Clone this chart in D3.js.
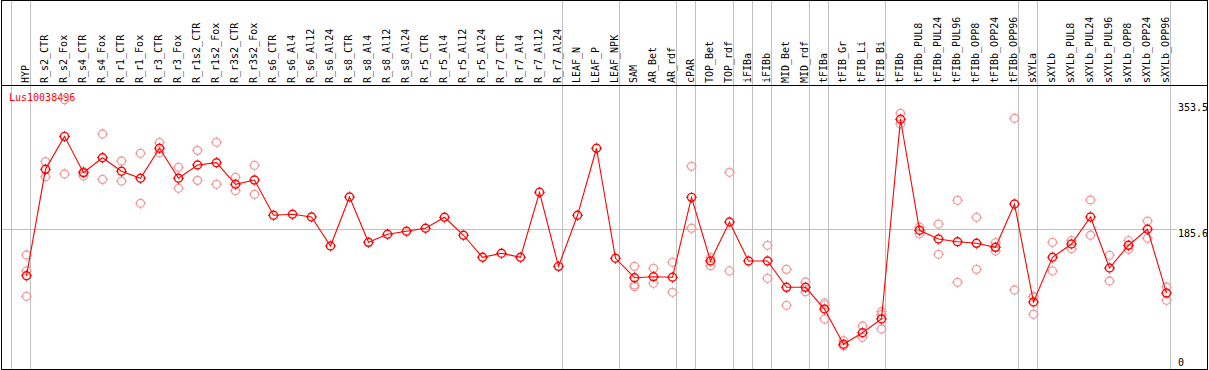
<!DOCTYPE html>
<html>
<head>
<meta charset="utf-8">
<script src="https://cdn.jsdelivr.net/npm/d3@7"></script>
<style>
  html, body { margin: 0; padding: 0; background: #fff; }
  svg { display: block; }
  text { font-family: "DejaVu Sans Mono", "Liberation Mono", monospace; font-size: 10px; }
</style>
</head>
<body>
<div id="chart"></div>
<script>
const geneLabel = "Lus10038496";

const categories = [
  "HYP",
  "R_s2_CTR","R_s2_Fox","R_s4_CTR","R_s4_Fox","R_r1_CTR","R_r1_Fox","R_r3_CTR","R_r3_Fox",
  "R_r1s2_CTR","R_r1s2_Fox","R_r3s2_CTR","R_r3s2_Fox",
  "R_s6_CTR","R_s6_Al4","R_s6_Al12","R_s6_Al24","R_s8_CTR","R_s8_Al4","R_s8_Al12","R_s8_Al24",
  "R_r5_CTR","R_r5_Al4","R_r5_Al12","R_r5_Al24","R_r7_CTR","R_r7_Al4","R_r7_Al12","R_r7_Al24",
  "LEAF_N","LEAF_P","LEAF_NPK",
  "SAM","AR_Bet","AR_rdf",
  "cPAR",
  "TOP_Bet","TOP_rdf",
  "iFIBa",
  "iFIBb",
  "MID_Bet","MID_rdf",
  "tFIBa",
  "tFIB_Gr","tFIB_Li","tFIB_Bi",
  "tFIBb","tFIBb_PUL8","tFIBb_PUL24","tFIBb_PUL96","tFIBb_OPP8","tFIBb_OPP24","tFIBb_OPP96",
  "sXYLa",
  "sXYLb","sXYLb_PUL8","sXYLb_PUL24","sXYLb_PUL96","sXYLb_OPP8","sXYLb_OPP24","sXYLb_OPP96"
];

// number of consecutive categories in each separated group
const groupSizes = [1, 28, 3, 3, 1, 2, 1, 1, 2, 1, 3, 7, 1, 7];

const means = [
  124.1,
  262.7, 305.6, 258.3, 277.8, 260.1, 251.0, 290.1, 251.0,
  268.3, 271.3, 243.2, 248.7,
  202.8, 204.1, 200.6, 162.8, 226.6, 167.6, 178.1, 182.0,
  185.9, 200.2, 176.8, 148.1, 153.3, 148.1, 232.8, 136.3,
  202.8, 290.1, 146.8,
  121.5, 122.8, 122.1,
  226.2,
  143.3, 194.0,
  143.3,
  143.3,
  109.0, 109.0,
  80.7,
  34.8, 49.8, 67.8,
  327.9, 183.3, 171.9, 168.4, 166.3, 161.1, 217.5,
  89.9,
  148.1, 165.4, 200.6, 134.1, 163.7, 184.6, 101.5
];

const replicates = [
  [151.1, 130.3, 97.3],
  [272.7, 253.0], [353.5, 256.6], [259.6, 254.0], [308.7, 249.6],
  [273.5, 247.4], [283.5, 218.4], [297.4, 284.3], [265.3, 238.0],
  [287.4, 248.3], [297.9, 243.2], [252.3, 234.8], [267.9, 230.1],
  [], [], [], [], [], [], [], [],
  [], [], [], [], [], [], [], [],
  [], [], [],
  [136.3, 112.0, 109.8], [133.7, 114.2], [141.6, 102.5],
  [266.6, 185.9],
  [147.6, 137.1], [258.8, 130.3],
  [],
  [163.7, 120.7],
  [132.4, 85.6], [115.9, 103.2],
  [88.6, 86.0, 67.8],
  [39.5, 32.6], [58.6, 43.9], [77.2, 73.4, 54.7],
  [335.6, 321.7], [187.5, 178.5], [191.4, 152.0], [222.3, 115.5],
  [200.2, 132.4], [167.1, 156.3], [329.2, 105.5],
  [97.3, 96.5, 73.9],
  [167.6, 130.3], [169.7, 159.3], [222.7, 176.8], [150.7, 117.2],
  [169.7, 158.6], [195.3, 172.8], [109.4, 92.1]
];

const yTicks = [353.5, 185.6, 0];
const yMax = 371.2;

// ---- layout ----
const W = 1209, H = 370;
const left = 11.5, colW = 19;
const headerY = 85.5, bottomY = 369.5, rightX = 1207.5;
const red = "#ff0000", pink = "#f09a9a", grid = "#c0c0c0";

const svg = d3.select("#chart").append("svg")
  .attr("width", W).attr("height", H);
svg.append("rect").attr("width", W).attr("height", H).attr("fill", "#fff");

const x = d3.scaleBand().domain(categories)
  .range([left, left + categories.length * colW]).padding(0);
const px = c => x(c) + 15;
const y = d3.scaleLinear().domain([0, yMax]).range([371, 86]);

// vertical group separators
const edges = [left];
let acc = 0;
groupSizes.forEach(s => { acc += s; edges.push(x(categories[acc - 1]) + x.bandwidth()); });
svg.append("g").selectAll("line").data(edges).join("line")
  .attr("x1", d => d).attr("x2", d => d)
  .attr("y1", 0.5).attr("y2", bottomY)
  .attr("stroke", grid).attr("stroke-width", 1).attr("shape-rendering", "crispEdges");

// horizontal mid gridline
svg.append("line")
  .attr("x1", 1.5).attr("x2", 1177)
  .attr("y1", Math.round(y(yTicks[1])) + 0.5).attr("y2", Math.round(y(yTicks[1])) + 0.5)
  .attr("stroke", grid).attr("shape-rendering", "crispEdges");

// header labels
svg.append("g").selectAll("text").data(categories).join("text")
  .attr("transform", d => `translate(${px(d) - 1},83) rotate(-90)`)
  .attr("dy", "0.35em")
  .attr("text-anchor", "start")
  .attr("fill", "#000")
  .text(d => d);

// borders
svg.append("line").attr("x1", 1).attr("x2", rightX).attr("y1", headerY).attr("y2", headerY)
  .attr("stroke", "#000").attr("shape-rendering", "crispEdges");
svg.append("rect").attr("x", 1.5).attr("y", 0.5).attr("width", rightX - 1.5).attr("height", bottomY - 0.5)
  .attr("fill", "none").attr("stroke", "#000").attr("shape-rendering", "crispEdges");

// right axis labels
const tickDy = [11, 8, -5.5];
svg.append("g").selectAll("text").data(yTicks).join("text")
  .attr("x", 1178).attr("y", (d, i) => y(d) + tickDy[i])
  .attr("fill", "#000")
  .text(d => d === 0 ? "0" : d.toFixed(1));

// gene label
svg.append("text").attr("x", 9).attr("y", 101).attr("fill", red).text(geneLabel);

// marker: circle with four short ticks
function marker(g, color, sw) {
  g.append("circle").attr("r", 4).attr("fill", "none").attr("stroke", color).attr("stroke-width", sw);
  g.append("path").attr("d", "M0,-4.5V-5.5M0,4.5V5.5M-4.5,0H-5.5M4.5,0H5.5")
    .attr("stroke", color).attr("stroke-width", 1);
}

// replicate points
const repPts = [];
categories.forEach((c, i) => replicates[i].forEach(v => repPts.push([c, v])));
svg.append("g").selectAll("g").data(repPts).join("g")
  .attr("transform", d => `translate(${px(d[0])},${y(d[1])})`)
  .each(function() { marker(d3.select(this), pink, 1.3); });

// mean line
const line = d3.line().x((d, i) => px(categories[i])).y(d => y(d));
svg.append("path").datum(means).attr("d", line)
  .attr("fill", "none").attr("stroke", red).attr("stroke-width", 1.1);

// mean points
svg.append("g").selectAll("g").data(means).join("g")
  .attr("transform", (d, i) => `translate(${px(categories[i])},${y(d)})`)
  .each(function() { marker(d3.select(this), red, 1.4); });
</script>
</body>
</html>
